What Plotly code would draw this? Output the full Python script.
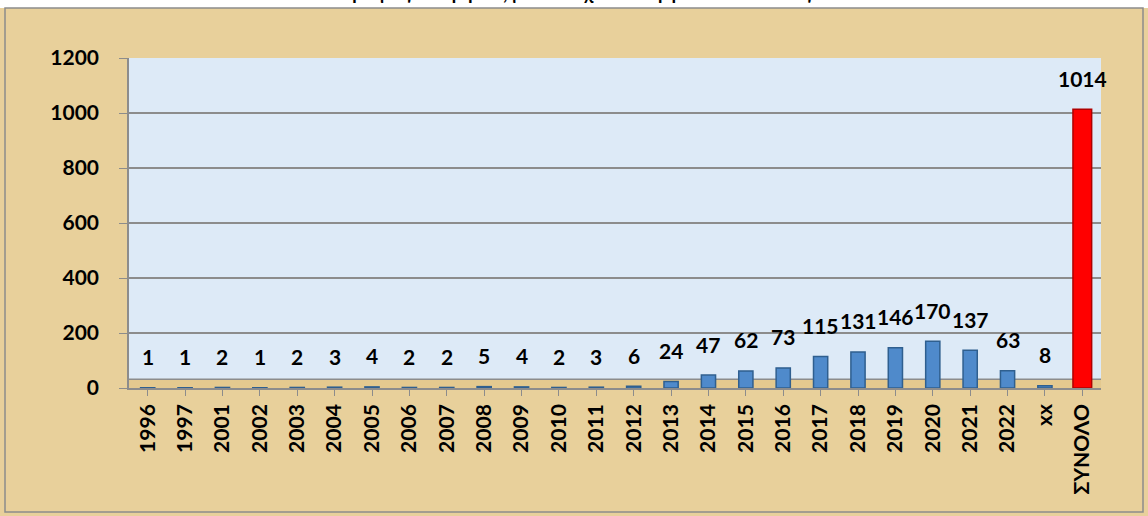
import plotly.graph_objects as go

categories = ["1996", "1997", "2001", "2002", "2003", "2004", "2005", "2006", "2007",
              "2008", "2009", "2010", "2011", "2012", "2013", "2014", "2015", "2016",
              "2017", "2018", "2019", "2020", "2021", "2022", "xx", "ΣΥΝΟΛΟ"]
values = [1, 1, 2, 1, 2, 3, 4, 2, 2, 5, 4, 2, 3, 6, 24, 47, 62, 73, 115, 131, 146,
          170, 137, 63, 8, 1014]
y_ticks = [0, 200, 400, 600, 800, 1000, 1200]
title_text = "Αριθμός διατριβών, μεταπτυχιακών εργασιών ανά έτος"

BLUE = "#4F8ACB"
RED = "#FF0000"
colors = [RED if c == "ΣΥΝΟΛΟ" else BLUE for c in categories]
line_colors = ["#B00000" if c == "ΣΥΝΟΛΟ" else "#2F5F8F" for c in categories]
widths = [0.5 if c == "ΣΥΝΟΛΟ" else 0.38 for c in categories]

W, H = 1148, 516
L, R, T, B = 129, 47, 58, 128
PW, PH = W - L - R, H - T - B

fig = go.Figure()
fig.add_trace(go.Bar(
    x=categories, y=values, width=widths,
    marker=dict(color=colors, line=dict(color=line_colors, width=1.5)),
    hoverinfo="x+y",
))

FONT = "Lato, 'Open Sans', sans-serif"

annotations = []
for i, v in enumerate(values):
    annotations.append(dict(
        x=i, y=v, xref="x", yref="y", text=f"<b>{v}</b>", showarrow=False,
        yanchor="middle", yshift=31, font=dict(size=21, color="black", family=FONT),
    ))


def px_x(p):
    return (p - L) / PW


def px_y(p):
    return (H - B - p) / PH


annotations.append(dict(
    x=px_x(W / 2), y=px_y(-8), xref="paper", yref="paper", text=f"<b>{title_text}</b>",
    showarrow=False, yanchor="middle", xanchor="center",
    font=dict(size=19, color="black", family=FONT),
))

shapes = [
    # white strip at top
    dict(type="rect", xref="paper", yref="paper", x0=px_x(0), x1=px_x(W), y0=px_y(8), y1=px_y(0),
         fillcolor="white", line=dict(width=0), layer="below"),
    # frame border
    dict(type="rect", xref="paper", yref="paper", x0=px_x(5), x1=px_x(W - 5), y0=px_y(H - 4), y1=px_y(8),
         fillcolor="rgba(0,0,0,0)", line=dict(color="#8C8C8C", width=1.5), layer="below"),
    # floor band
    dict(type="rect", xref="paper", yref="y", x0=0, x1=1, y0=0, y1=32,
         fillcolor="#E4C98F", line=dict(width=0), layer="below"),
    dict(type="line", xref="paper", yref="y", x0=0, x1=1, y0=32, y1=32,
         line=dict(color="#8C8C8C", width=1.5), layer="below"),
]

fig.update_layout(
    width=W, height=H,
    margin=dict(l=L, r=R, t=T, b=B),
    paper_bgcolor="#E8D09B",
    plot_bgcolor="#DDEAF7",
    showlegend=False,
    bargap=0.6,
    annotations=annotations,
    shapes=shapes,
    font=dict(family=FONT, color="black"),
)
fig.update_xaxes(
    type="category", tickangle=-90, range=[-0.5, len(categories) - 0.5],
    tickfont=dict(size=21, color="black", family=FONT),
    tickprefix="<b>", ticksuffix="</b>",
    showline=True, linecolor="#8C8C8C", linewidth=1.5,
    ticks="outside", ticklen=6, tickcolor="#8C8C8C",
    showgrid=False,
)
fig.update_yaxes(
    range=[0, 1200], tickvals=y_ticks,
    ticktext=[f"<b>{t}</b>" for t in y_ticks],
    tickfont=dict(size=21, color="black", family=FONT),
    showline=True, linecolor="#8C8C8C", linewidth=1.5,
    ticks="outside", ticklen=8, tickcolor="#8C8C8C",
    showgrid=True, gridcolor="#8C8C8C", gridwidth=1.5,
    zeroline=False, ticklabelstandoff=16,
)

fig.write_html("out.html", config={"displayModeBar": False},
               post_script="document.body.style.margin='0';")
